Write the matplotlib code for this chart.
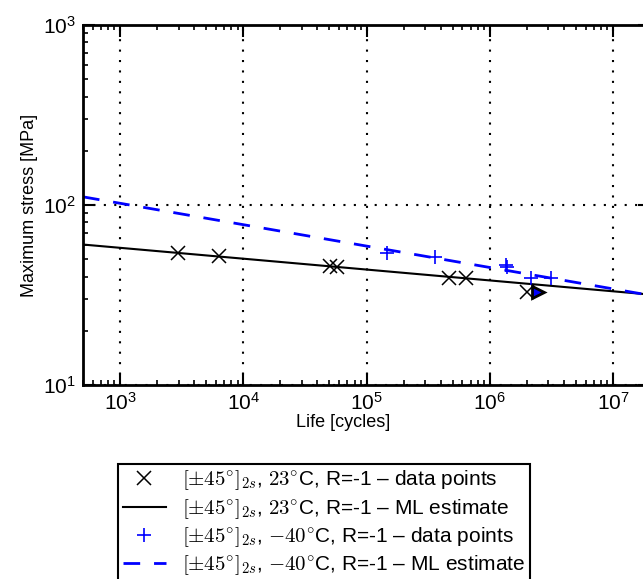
import numpy as np
import matplotlib
matplotlib.use('Agg')
import matplotlib.pyplot as plt

plt.rcParams['mathtext.fontset'] = 'cm'
plt.rcParams['font.family'] = ['Liberation Sans', 'DejaVu Sans']

# 23 C, R=-1 data points (cycles, MPa)
life_23 = [2960, 6380, 50700, 57400, 464000, 646000, 1.99e6]
stress_23 = [53.9, 52.1, 46.0, 45.2, 39.5, 39.2, 32.7]
# -40 C, R=-1 data points
life_m40 = [146000, 357000, 1.36e6, 1.38e6, 2.15e6, 3.16e6]
stress_m40 = [54.3, 51.3, 46.6, 45.0, 39.5, 39.5]
# run-outs
runout_life = [2.47e6]
runout_stress = [32.7]

# ML estimate lines (end points)
ml_life = [500, 2e7]
ml_stress_23 = [60.3, 31.8]
ml_stress_m40 = [111.0, 31.5]

lab_23 = r'$[\pm45^{\circ}]_{2s}$, $23^{\circ}$C, R=-1 – '
lab_m40 = r'$[\pm45^{\circ}]_{2s}$, $-40^{\circ}$C, R=-1 – '

fig = plt.figure(figsize=(6.43, 5.79), dpi=100)
ax = fig.add_axes([83 / 643, 194 / 579, 567 / 643, 360 / 579])

ax.plot(life_23, stress_23, 'x', color='k', ms=10, mew=1.1,
        label=lab_23 + 'data points')
ax.plot(ml_life, ml_stress_23, '-', color='k', lw=1.5,
        label=lab_23 + 'ML estimate')
ax.plot(life_m40, stress_m40, '+', color='b', ms=10, mew=1.2,
        label=lab_m40 + 'data points')
ax.plot(ml_life, ml_stress_m40, color='b', lw=2, dashes=(6, 5),
        label=lab_m40 + 'ML estimate')
ax.plot(runout_life, runout_stress, '>', mfc='b', mec='k', ms=8, mew=2)

ax.set_xscale('log')
ax.set_yscale('log')
ax.set_xlim(500, 2e7)
ax.set_ylim(10, 1000)
ax.grid(True, which='major', color='k', linestyle=(0, (1, 4)), lw=1.5)

for s in ax.spines.values():
    s.set_linewidth(2)
ax.tick_params(which='major', direction='in', length=8.5, width=1.5,
               labelsize=15, top=True, right=True, pad=5)
ax.tick_params(which='minor', direction='in', length=3.5, width=1.2,
               top=True, right=True)

ax.set_xlabel('Life [cycles]', fontsize=13)
ax.xaxis.set_label_coords(260 / 567, -29 / 360)
ax.set_ylabel('Maximum stress [MPa]', fontsize=13, labelpad=4)

leg = fig.legend(loc='upper left', bbox_to_anchor=(118 / 643, 1 - 464 / 579),
                 numpoints=1, fontsize=15, fancybox=False, framealpha=1,
                 edgecolor='k', handlelength=2.1, handletextpad=0.75,
                 borderpad=0.22, borderaxespad=0, labelspacing=0.22)
leg.get_frame().set_linewidth(1.5)

fig.savefig('out.png', dpi=100)
